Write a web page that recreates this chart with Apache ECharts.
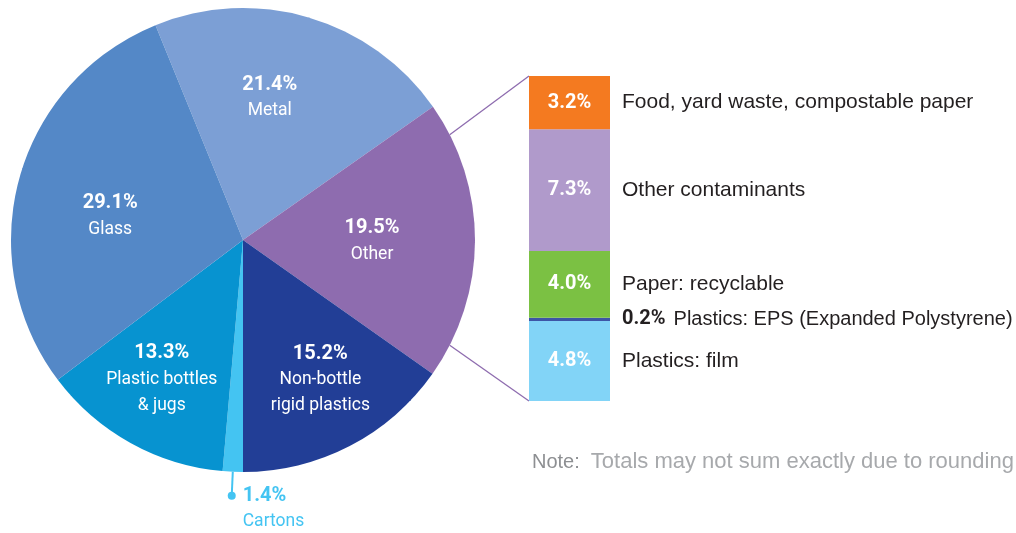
<!DOCTYPE html>
<html>
<head>
<meta charset="utf-8">
<script src="https://cdn.jsdelivr.net/npm/echarts@6/dist/echarts.min.js"></script>
<style>
  html, body { margin: 0; padding: 0; background: #ffffff; }
  #chart { width: 1016px; height: 533px; }
</style>
</head>
<body>
<div id="chart"></div>
<script>
// Material shares (% of total), clockwise from "Metal"
const pieNames = ['Metal', 'Other', 'Non-bottle\nrigid plastics', 'Cartons', 'Plastic bottles\n& jugs', 'Glass'];
const pieValues = [21.4, 19.5, 15.2, 1.4, 13.3, 29.1];

// Breakdown of "Other", listed top to bottom
const otherNames = [
  'Food, yard waste, compostable paper',
  'Other contaminants',
  'Paper: recyclable',
  'Plastics: EPS (Expanded Polystyrene)',
  'Plastics: film'
];
const otherValues = [3.2, 7.3, 4.0, 0.2, 4.8];

const noteLabel = 'Note:';
const noteText = 'Totals may not sum exactly due to rounding';

// ---- styling -------------------------------------------------------------
const LABEL_FONT = 'Roboto, "Liberation Sans", sans-serif';
const SANS = '"Liberation Sans", Arial, Helvetica, sans-serif';
const pieColors = ['#7c9fd5', '#8e6caf', '#223e96', '#44c4f2', '#0793d0', '#5488c7'];
const otherColors = ['#f47a20', '#b09acb', '#7bc143', '#3d55a6', '#82d4f7'];
const CARTONS = 3;
const EPS = 3;

const PIE_CENTER = [243, 240];
const PIE_RADIUS = 232;
const BAR_GRID = { left: 529, top: 76, width: 81, height: 325 };

// shifts of the inside pie labels away from the half-radius point
const labelNudge = [[-6, -31], [13, 1], [24, 37], [0, 0], [-25, 38], [-21, 7]];

const pieTotal = pieValues.reduce((a, b) => a + b, 0);
// "Non-bottle rigid plastics" closes at six o'clock
const startAngle = -90 + 360 * (pieValues[0] + pieValues[1] + pieValues[2]) / pieTotal;
const otherTotal = otherValues.reduce((a, b) => a + b, 0);

// mid angle (degrees, counter-clockwise from 3 o'clock) of each slice
let acc = 0;
const midAngles = pieValues.map(v => {
  const a0 = startAngle - 360 * acc / pieTotal;
  acc += v;
  const a1 = startAngle - 360 * acc / pieTotal;
  return (a0 + a1) / 2;
});

const pct = v => v.toFixed(1) + '%';

const pieData = pieNames.map((name, i) => {
  const item = { name: name, value: pieValues[i], itemStyle: { color: pieColors[i] } };
  if (i === CARTONS) {
    item.label = {
      position: 'outside',
      formatter: p => '{d|}{s|}{cp|' + pct(p.value) + '}\n{s2|}{cn|' + p.name + '}'
    };
    item.labelLine = {
      show: true, length: 24, length2: 0,
      lineStyle: { color: pieColors[CARTONS], width: 2 }
    };
  }
  return item;
});

// stacked bar: drawn bottom-up, so reverse the top-to-bottom lists
const barSeries = otherNames.map((name, i) => {
  const isEps = i === EPS;
  return {
    type: 'bar',
    name: name,
    stack: 'other',
    barWidth: '100%',
    silent: true,
    z: 10 - i,
    itemStyle: { color: otherColors[i] },
    data: [otherValues[i]],
    label: {
      show: true,
      position: [0, '50%'],
      align: 'left',
      verticalAlign: 'middle',
      formatter: isEps
        ? '{s|}{e|' + pct(otherValues[i]) + '}{n2|' + name + '}'
        : '{v|' + pct(otherValues[i]) + '}{n|' + name + '}',
      rich: {
        v: { width: BAR_GRID.width, align: 'center', color: '#ffffff', fontFamily: LABEL_FONT, fontWeight: 'bold', fontSize: 20 },
        n: { color: '#231f20', fontFamily: SANS, fontSize: 21, padding: [0, 0, 0, 12] },
        s: { width: BAR_GRID.width + 12 },
        e: { color: '#231f20', fontFamily: LABEL_FONT, fontWeight: 'bold', fontSize: 20 },
        n2: { color: '#231f20', fontFamily: SANS, fontSize: 20, padding: [0, 0, 0, 8] }
      }
    }
  };
}).reverse();

const chart = echarts.init(document.getElementById('chart'), null, { renderer: 'canvas' });

chart.setOption({
  backgroundColor: '#ffffff',
  animation: false,
  title: {
    left: 527,
    top: 446,
    text: '{a|' + noteLabel + '}{sp|}{b|' + noteText + '}',
    textStyle: {
      fontWeight: 'normal',
      rich: {
        a: { color: '#8d8f92', fontFamily: SANS, fontSize: 20, fontWeight: 'normal' },
        sp: { width: 11 },
        b: { color: '#a7a9ac', fontFamily: SANS, fontSize: 22, fontWeight: 'normal' }
      }
    }
  },
  grid: BAR_GRID,
  xAxis: { type: 'category', data: ['Other'], show: false },
  yAxis: { type: 'value', min: 0, max: otherTotal, show: false },
  series: [
    {
      type: 'pie',
      center: PIE_CENTER,
      radius: PIE_RADIUS,
      startAngle: startAngle,
      clockwise: true,
      avoidLabelOverlap: false,
      silent: true,
      itemStyle: { borderWidth: 0 },
      data: pieData,
      label: {
        show: true,
        position: 'inside',
        formatter: p => '{p|' + pct(p.value) + '}\n{n|' + p.name + '}',
        rich: {
          p: { color: '#ffffff', fontFamily: LABEL_FONT, fontWeight: 'bold', fontSize: 20, lineHeight: 26 },
          n: { color: '#ffffff', fontFamily: LABEL_FONT, fontSize: 17.5, lineHeight: 26 },
          d: { width: 8, height: 8, borderRadius: 4, backgroundColor: pieColors[CARTONS] },
          s: { width: 7 },
          s2: { width: 15 },
          cp: { color: pieColors[CARTONS], fontFamily: LABEL_FONT, fontWeight: 'bold', fontSize: 20, lineHeight: 26 },
          cn: { color: pieColors[CARTONS], fontFamily: LABEL_FONT, fontSize: 17.5, lineHeight: 26 }
        }
      },
      labelLayout: function (params) {
        const i = params.dataIndex;
        if (i === CARTONS && params.labelLinePoints) {
          const pts = params.labelLinePoints;
          const end = pts[pts.length - 1];
          return {
            x: end[0] - 4,
            y: end[1] - 13,
            align: 'left',
            verticalAlign: 'top',
            labelLinePoints: pts
          };
        }
        const a = midAngles[i] * Math.PI / 180;
        return {
          x: PIE_CENTER[0] + PIE_RADIUS / 2 * Math.cos(a) + labelNudge[i][0],
          y: PIE_CENTER[1] - PIE_RADIUS / 2 * Math.sin(a) + labelNudge[i][1],
          align: 'center',
          verticalAlign: 'middle'
        };
      }
    }
  ].concat(barSeries)
});

// connector lines from the "Other" slice to the breakdown bar
const rad = 27 * Math.PI / 180;
const topY = chart.convertToPixel({ yAxisIndex: 0 }, otherTotal);
const botY = chart.convertToPixel({ yAxisIndex: 0 }, 0);
const px = PIE_CENTER[0] + PIE_RADIUS * Math.cos(rad);
const pyTop = PIE_CENTER[1] - PIE_RADIUS * Math.sin(rad);
const pyBot = PIE_CENTER[1] + PIE_RADIUS * Math.sin(rad);
const connStyle = { stroke: pieColors[1], lineWidth: 1.3 };
chart.setOption({
  graphic: [
    { type: 'line', silent: true, shape: { x1: px, y1: pyTop, x2: BAR_GRID.left, y2: topY }, style: connStyle },
    { type: 'line', silent: true, shape: { x1: px, y1: pyBot, x2: BAR_GRID.left, y2: botY }, style: connStyle }
  ]
});
</script>
</body>
</html>
